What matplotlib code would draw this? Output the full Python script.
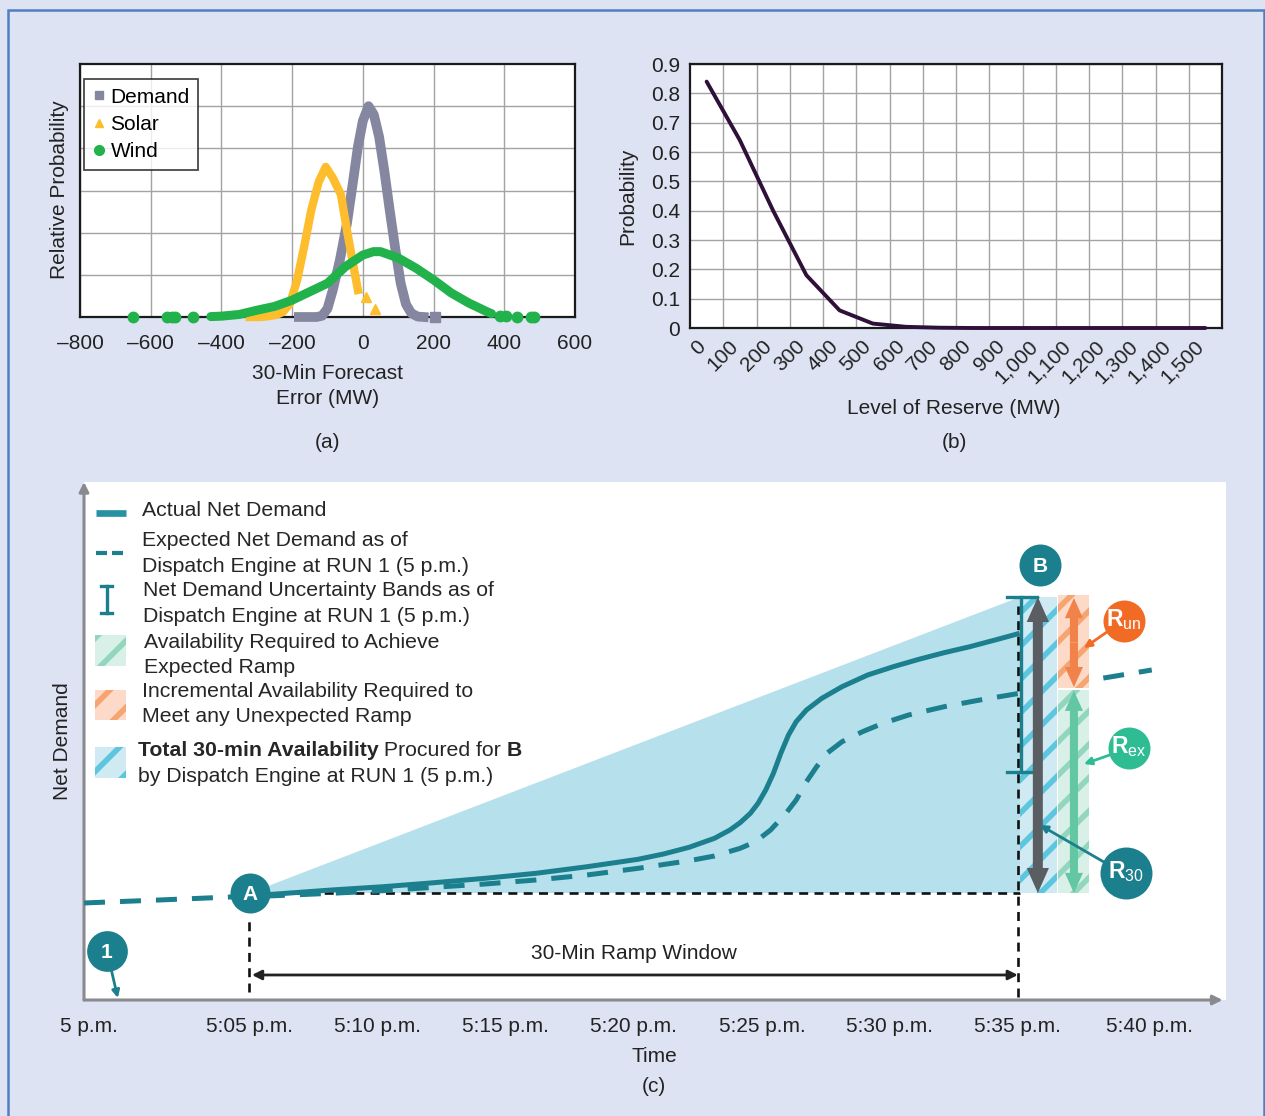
import matplotlib
matplotlib.use('Agg')
import matplotlib.pyplot as plt
from matplotlib.patches import Rectangle, Polygon, FancyArrowPatch
from matplotlib.lines import Line2D
from matplotlib.transforms import ScaledTranslation
import numpy as np

plt.rcParams['font.family'] = ['Liberation Sans', 'DejaVu Sans']
plt.rcParams['mathtext.fontset'] = 'custom'
plt.rcParams['mathtext.rm'] = 'Liberation Sans'
plt.rcParams['mathtext.bf'] = 'Liberation Sans:bold'
plt.rcParams['mathtext.it'] = 'Liberation Sans:italic'
plt.rcParams['hatch.linewidth'] = 4.0

# ---------------- data ----------------
# (a) 30-min forecast error distributions
a_xticks = [-800, -600, -400, -200, 0, 200, 400, 600]
demand_x = [-181, -165, -150, -131, -115, -100, -85, -65, -45, -28, -14, 0, 16, 31, 46, 61, 76, 92, 107, 122, 137, 155, 172]
demand_y = [0, 0, 0, 0, 0.03, 0.2, 0.64, 1.35, 2.22, 3.2, 4.04, 4.65, 5.0, 4.8, 4.27, 3.45, 2.53, 1.6, 0.8, 0.3, 0.09, 0.01, 0]
demand_tail_x = [203]
demand_tail_y = [0]
solar_x = [-320, -290, -267, -245, -226, -206, -186, -166, -146, -125, -105, -85, -62, -45, -28, -14]
solar_y = [0.0, 0.0, 0.02, 0.05, 0.12, 0.32, 0.87, 1.67, 2.53, 3.2, 3.56, 3.3, 2.9, 2.06, 1.27, 0.64]
solar_tail_x = [10, 33]
solar_tail_y = [0.48, 0.2]
wind_x = [-430, -400, -350, -300, -250, -200, -150, -100, -50, 0, 30, 50, 100, 150, 200, 250, 300, 350, 364]
wind_y = [0.01, 0.02, 0.06, 0.16, 0.25, 0.40, 0.60, 0.80, 1.19, 1.47, 1.55, 1.55, 1.40, 1.16, 0.88, 0.57, 0.33, 0.13, 0.08]
wind_tail_x = [-649, -555, -540, -532, -481, 389, 404, 435, 475, 485]
wind_tail_y = [0, 0, 0, 0, 0, 0.03, 0.02, 0.01, 0, 0]

# (b) probability vs level of reserve
reserve_labels = ['0', '100', '200', '300', '400', '500', '600', '700', '800', '900',
                  '1,000', '1,100', '1,200', '1,300', '1,400', '1,500']
reserve_prob = [0.84, 0.64, 0.40, 0.18, 0.06, 0.015, 0.004, 0.001, 0, 0, 0, 0, 0, 0, 0, 0]
b_yticks = [0, 0.1, 0.2, 0.3, 0.4, 0.5, 0.6, 0.7, 0.8, 0.9]
b_yticklabels = ['0', '0.1', '0.2', '0.3', '0.4', '0.5', '0.6', '0.7', '0.8', '0.9']

# (c) net demand schematic (x: minutes after 5 p.m., y: net demand, arbitrary units)
time_ticks = [-1.27, 5, 10, 15, 20, 25, 30, 35, 40.16]
time_labels = ['5 p.m.', '5:05 p.m.', '5:10 p.m.', '5:15 p.m.', '5:20 p.m.', '5:25 p.m.',
               '5:30 p.m.', '5:35 p.m.', '5:40 p.m.']
actual_t = [5.00, 5.72, 8.20, 10.20, 12.19, 14.18, 16.18, 18.17, 20.16, 21.16, 22.16, 23.15, 23.75,
            24.15, 24.55, 24.85, 25.15, 25.45, 25.74, 26.04, 26.34, 26.74, 27.34, 28.13, 29.13,
            30.13, 31.13, 32.12, 33.12, 34.11, 35.07]
actual_nd = [20.30, 20.35, 21.24, 21.87, 22.64, 23.49, 24.46, 25.73, 27.16, 28.19, 29.48, 31.22, 32.82,
             34.23, 36.04, 37.97, 40.54, 43.76, 47.63, 51.16, 53.73, 55.98, 58.24, 60.48, 62.74,
             64.34, 65.77, 67.05, 68.20, 69.50, 70.79]
expected_t = [-1.48, 1.48, 4.22, 5.00, 5.72, 8.20, 10.20, 12.19, 14.18, 16.18, 18.17, 20.16, 22.16,
              23.15, 24.15, 24.75, 25.34, 25.94, 26.34, 26.74, 27.14, 27.54, 28.13, 28.93, 29.73,
              30.73, 32.12, 33.52, 35.07, 37.42, 40.23]
expected_nd = [18.73, 19.31, 19.88, 20.00, 20.08, 20.60, 21.10, 21.76, 22.39, 23.17, 24.13, 25.42, 26.89,
               27.80, 29.28, 30.56, 32.82, 36.04, 38.61, 42.14, 45.04, 47.63, 49.86, 51.80, 53.42,
               55.02, 56.62, 57.92, 59.21, 61.39, 63.71]
t_A, nd_A = 5.0, 20.66          # point A (start of ramp window)
t_B = 35.08                     # end of ramp window (B)
nd_top = 77.8                   # top of total 30-min availability
nd_exp_B = 59.85                # expected net demand at B
band_low = 44.0                 # lower uncertainty band at B

W, H = 1265, 1116
BG = '#dde3f2'
TEAL = '#1b7f8d'
GRID = '#a3a3a3'

fig = plt.figure(figsize=(W / 100, H / 100), dpi=100, facecolor=BG)


def fx(px):
    return px / W


def fy(py):
    return 1 - py / H


def ax_rect(l, t, r, b):
    return [fx(l), fy(b), (r - l) / W, (b - t) / H]


# outer frame
fig.add_artist(Rectangle((fx(8), fy(1130)), (1264 - 8) / W, (1130 - 10) / H,
                         transform=fig.transFigure, fill=False, edgecolor='#4e7fc1', lw=1.8))

# ================= (a) =================
axa = fig.add_axes(ax_rect(80, 64, 575, 317))
axa.set_facecolor('white')
axa.set_xlim(-800, 600)
axa.set_ylim(0, 6)
axa.set_xticks(a_xticks)
axa.set_xticklabels([('\u2013' + str(-v)) if v < 0 else str(v) for v in a_xticks])
axa.set_yticks([1, 2, 3, 4, 5])
axa.set_yticklabels([])
axa.grid(True, color=GRID, lw=1.0)
axa.set_axisbelow(True)
axa.tick_params(length=0, labelsize=15, pad=12, colors='#222222')
for s in axa.spines.values():
    s.set_linewidth(1.6)
    s.set_color('#1a1a1a')
c_dem, c_sol, c_wind = '#85869f', '#fdbd2c', '#22b24c'
axa.plot(demand_x, demand_y, color=c_dem, lw=7.0, zorder=3, clip_on=False, solid_joinstyle='round')
axa.plot(demand_tail_x, demand_tail_y, color=c_dem, ls='none', marker='s', ms=7, zorder=3, clip_on=False)
axa.plot(solar_x, solar_y, color=c_sol, lw=6.0, zorder=4, clip_on=False, solid_joinstyle='round')
axa.plot(solar_tail_x, solar_tail_y, color=c_sol, ls='none', marker='^', ms=7, zorder=4, clip_on=False)
axa.plot(wind_x, wind_y, color=c_wind, lw=6.5, zorder=5, clip_on=False, solid_joinstyle='round',
         solid_capstyle='round')
axa.plot(wind_tail_x, wind_tail_y, color=c_wind, ls='none', marker='o', ms=7.5, zorder=5, clip_on=False)
handles = [Line2D([], [], color=c_dem, marker='s', ls='none', ms=6),
           Line2D([], [], color=c_sol, marker='^', ls='none', ms=6),
           Line2D([], [], color=c_wind, marker='o', ls='none', ms=7)]
lg = axa.legend(handles, ['Demand', 'Solar', 'Wind'], loc='upper left',
                bbox_to_anchor=(fx(84), fy(79)), bbox_transform=fig.transFigure,
                borderaxespad=0, fontsize=15, frameon=True, fancybox=False,
                handlelength=0.6, handletextpad=0.25, labelspacing=0.40, borderpad=0.42)
lg.get_frame().set_edgecolor('#1a1a1a')
lg.get_frame().set_linewidth(1.3)
fig.text(fx(60), fy(190), 'Relative Probability', rotation=90, ha='center', va='center', fontsize=15, color='#222')
fig.text(fx(328), fy(373), '30-Min Forecast', ha='center', va='center', fontsize=15, color='#222')
fig.text(fx(328), fy(398), 'Error (MW)', ha='center', va='center', fontsize=15, color='#222')
fig.text(fx(328), fy(443), '(a)', ha='center', va='center', fontsize=15, color='#222')

# ================= (b) =================
axb = fig.add_axes(ax_rect(690, 64, 1222, 328))
axb.set_facecolor('white')
xb = np.arange(len(reserve_labels))
axb.plot(xb, reserve_prob, color='#2e1038', lw=2.8, solid_capstyle='round', zorder=3, clip_on=False)
axb.set_xlim(-0.5, len(reserve_labels) - 0.5)
axb.set_ylim(0, 0.9)
axb.set_xticks(xb)
axb.set_xticklabels([])
lab_tr = axb.get_xaxis_transform() + ScaledTranslation(-0.11, -0.09, fig.dpi_scale_trans)
for i, lab in zip(xb, reserve_labels):
    axb.text(i, 0, lab, transform=lab_tr, rotation=45, ha='right', va='top',
             rotation_mode='anchor', fontsize=15, color='#222222', clip_on=False)
axb.set_xticks(np.arange(0.5, len(reserve_labels) - 1), minor=True)
axb.set_yticks(b_yticks)
axb.set_yticklabels(b_yticklabels)
axb.grid(which='minor', axis='x', color=GRID, lw=1.0)
axb.grid(which='major', axis='y', color=GRID, lw=1.0)
axb.set_axisbelow(True)
axb.tick_params(which='both', length=0, labelsize=15, colors='#222222')
axb.tick_params(axis='y', pad=7)
for s in axb.spines.values():
    s.set_linewidth(1.6)
    s.set_color('#1a1a1a')
fig.text(fx(628), fy(196), 'Probability', rotation=90, ha='center', va='center', fontsize=15, color='#222')
fig.text(fx(954), fy(409), 'Level of Reserve (MW)', ha='center', va='center', fontsize=15, color='#222')
fig.text(fx(954), fy(443), '(b)', ha='center', va='center', fontsize=15, color='#222')

# ================= (c) =================
axc = fig.add_axes(ax_rect(84, 482, 1226, 1000))
axc.set_facecolor('white')
axc.set_xlim(-1.48, 43.13)
axc.set_ylim(0, 100)
for s in axc.spines.values():
    s.set_visible(False)
axc.set_yticks([])
axc.set_xticks(time_ticks)
axc.set_xticklabels(time_labels)
axc.tick_params(length=0, labelsize=15, pad=12.5, colors='#222222')

AXC = '#8a8a8e'
axc.annotate('', xy=(0, 1.0), xytext=(0, 0), xycoords='axes fraction',
             arrowprops=dict(arrowstyle='-|>', color=AXC, lw=2.2, mutation_scale=14, shrinkA=0, shrinkB=0))
axc.annotate('', xy=(0.997, 0), xytext=(0, 0), xycoords='axes fraction',
             arrowprops=dict(arrowstyle='-|>', color=AXC, lw=2.2, mutation_scale=14, shrinkA=0, shrinkB=0))

# total availability triangle
axc.add_patch(Polygon([(t_A, nd_A), (t_B, nd_top), (t_B, nd_A)], closed=True,
                      facecolor='#b6e1ec', edgecolor='none', zorder=1))

# expected (dashed) and actual (solid)
axc.plot(expected_t, expected_nd, color=TEAL, lw=3.6, dashes=(4.2, 3.0), zorder=3, solid_joinstyle='round')
axc.plot(actual_t, actual_nd, color=TEAL, lw=3.6, zorder=4, solid_capstyle='butt', solid_joinstyle='round')

# black dashed guides
axc.plot([t_A + 0.5, t_B], [nd_A, nd_A], color='#111', lw=1.9, dashes=(3.4, 2.4), zorder=2)
axc.plot([4.96, 4.96], [1.5, 15.4], color='#111', lw=1.9, dashes=(3.4, 2.4), zorder=2)
axc.plot([35.0, 35.0], [0.5, 76], color='#111', lw=1.9, dashes=(3.4, 2.4), zorder=2)
axc.annotate('', xy=(35.0, 4.83), xytext=(5.08, 4.83),
             arrowprops=dict(arrowstyle='<|-|>', color='#222', lw=2.0, mutation_scale=14, shrinkA=0, shrinkB=0))
axc.text(20.0, 9.07, '30-Min Ramp Window', ha='center', va='center', fontsize=15, color='#222')

# hatched availability bars
axc.add_patch(Rectangle((35.08, nd_A), 36.52 - 35.08, nd_top - nd_A, facecolor='#cfeaf3',
                        edgecolor='#5cc6de', lw=0, hatch='/', zorder=5))
axc.add_patch(Rectangle((36.56, 60.23), 37.77 - 36.56, 78.19 - 60.23, facecolor='#fcdac7',
                        edgecolor='#f6a572', lw=0, hatch='/', zorder=5))
axc.add_patch(Rectangle((36.56, nd_A), 37.77 - 36.56, nd_exp_B - nd_A, facecolor='#d8f0e7',
                        edgecolor='#92d6bd', lw=0, hatch='/', zorder=5))


def double_arrow(x, y0, y1, color, tail, hw, hl, z):
    ym = (y0 + y1) / 2
    for ye in (y0, y1):
        axc.add_patch(FancyArrowPatch((x, ym), (x, ye),
                                      arrowstyle=f'simple,head_width={hw},head_length={hl},tail_width={tail}',
                                      mutation_scale=10, color=color, lw=0, shrinkA=0, shrinkB=0, zorder=z))


double_arrow(35.78, nd_A, nd_top, '#5a5e63', 0.72, 1.6, 1.8, 7)
double_arrow(37.19, 60.4, 77.6, '#f0824a', 0.58, 1.3, 1.45, 7)
double_arrow(37.19, nd_A, 59.7, '#63c7a3', 0.58, 1.3, 1.45, 7)

# uncertainty bracket
axc.plot([35.12, 35.12], [band_low, nd_top], color=TEAL, lw=2.4, zorder=6)
axc.plot([34.57, 35.74], [nd_top, nd_top], color=TEAL, lw=2.4, zorder=6)
axc.plot([34.57, 35.74], [band_low, band_low], color=TEAL, lw=2.4, zorder=6)

# callout arrows
arrow_kw = dict(lw=2.0, mutation_scale=11, shrinkA=0, shrinkB=0)
axc.annotate('', xy=(-0.16, 0.39), xytext=(-0.43, 6.18), arrowprops=dict(arrowstyle='-|>', color=TEAL, **arrow_kw), zorder=8)
axc.annotate('', xy=(37.58, 67.95), xytext=(38.48, 71.04), arrowprops=dict(arrowstyle='-|>', color='#f26b25', **arrow_kw), zorder=8)
axc.annotate('', xy=(37.58, 45.56), xytext=(38.59, 47.3), arrowprops=dict(arrowstyle='-|>', color='#2ebd93', **arrow_kw), zorder=8)
axc.annotate('', xy=(35.86, 33.78), xytext=(38.36, 26.64), arrowprops=dict(arrowstyle='-|>', color=TEAL, **arrow_kw), zorder=8)

# circles
circles = [(5.0, 20.66, 'A', TEAL, 829),
           (35.86, 83.98, 'B', TEAL, 913),
           (-0.60, 9.52, '1', TEAL, 860)]
for cx, cy, lab, col, s in circles:
    axc.scatter([cx], [cy], s=s, color=col, zorder=9, clip_on=False, linewidths=0)
    axc.text(cx, cy, lab, ha='center', va='center_baseline', fontsize=15, fontweight='bold',
             color='white', zorder=10)
rcircles = [(39.14, 73.17, r'$\mathbf{R}_{\mathrm{un}}$', '#f26b25', 913),
            (39.34, 48.65, r'$\mathbf{R}_{\mathrm{ex}}$', '#2ebd93', 913),
            (39.22, 24.52, r'$\mathbf{R}_{30}$', TEAL, 1400)]
for cx, cy, lab, col, s in rcircles:
    axc.scatter([cx], [cy], s=s, color=col, zorder=9, clip_on=False, linewidths=0)
    axc.text(cx, cy + 0.3, lab, ha='center', va='center', fontsize=16.5, color='white', zorder=10)

# ---- legend of (c), drawn in figure pixels ----
def fline(xs, ys, **kw):
    fig.add_artist(Line2D([fx(x) for x in xs], [fy(y) for y in ys], transform=fig.transFigure, **kw))


def fbox(x0, y0, x1, y1, fc, hc):
    fig.add_artist(Rectangle((fx(x0), fy(y1)), (x1 - x0) / W, (y1 - y0) / H, transform=fig.transFigure,
                             facecolor=fc, edgecolor=hc, lw=0, hatch='/', zorder=3))


fline([96, 126], [513, 513], color='#2691a3', lw=4.8, solid_capstyle='butt', zorder=3)
fline([96, 106.7], [552.7, 552.7], color=TEAL, lw=3.0, solid_capstyle='butt', zorder=3)
fline([111.7, 122.7], [552.7, 552.7], color=TEAL, lw=3.0, solid_capstyle='butt', zorder=3)
fline([106.7, 106.7], [586, 613], color=TEAL, lw=2.4, zorder=3)
fline([101, 112], [586, 586], color=TEAL, lw=2.4, zorder=3)
fline([101, 112], [613, 613], color=TEAL, lw=2.4, zorder=3)
fbox(95, 635, 126, 666, '#d8f0e7', '#92d6bd')
fbox(95, 690, 126, 720, '#fcdac7', '#f6a572')
fbox(95, 747, 126, 778, '#cfeaf3', '#5cc6de')

TXT = '#262626'
LFS = 15.3
leg_lines = [("Actual Net Demand", 141.5, 516),
             ("Expected Net Demand as of", 141.5, 546),
             ("Dispatch Engine at RUN 1 (5 p.m.)", 141.5, 571.5),
             ("Net Demand Uncertainty Bands as of", 143, 596),
             ("Dispatch Engine at RUN 1 (5 p.m.)", 143, 621.5),
             ("Availability Required to Achieve", 144, 647.5),
             ("Expected Ramp", 144, 673),
             ("Incremental Availability Required to", 141.5, 697),
             ("Meet any Unexpected Ramp", 141.5, 722),
             ("by Dispatch Engine at RUN 1 (5 p.m.)", 137.5, 782)]
for s, x, y in leg_lines:
    fig.text(fx(x), fy(y), s, ha='left', va='baseline', fontsize=LFS, color=TXT)
t1 = fig.text(fx(137.5), fy(756.5), 'Total 30-min Availability', ha='left', va='baseline',
              fontsize=LFS, fontweight='bold', color=TXT)
t2 = axc.annotate(' Procured for ', xy=(1, 0), xycoords=t1, ha='left', va='bottom',
                  fontsize=LFS, color=TXT)
t3 = axc.annotate('B', xy=(1, 0), xycoords=t2, ha='left', va='bottom',
                  fontsize=LFS, fontweight='bold', color=TXT)

fig.text(fx(63), fy(741), 'Net Demand', rotation=90, ha='center', va='center', fontsize=15, color='#222')
fig.text(fx(654), fy(1057), 'Time', ha='center', va='center', fontsize=15, color='#222')
fig.text(fx(654), fy(1086), '(c)', ha='center', va='center', fontsize=15, color='#222')

fig.savefig('out.png', dpi=100, facecolor=BG)
